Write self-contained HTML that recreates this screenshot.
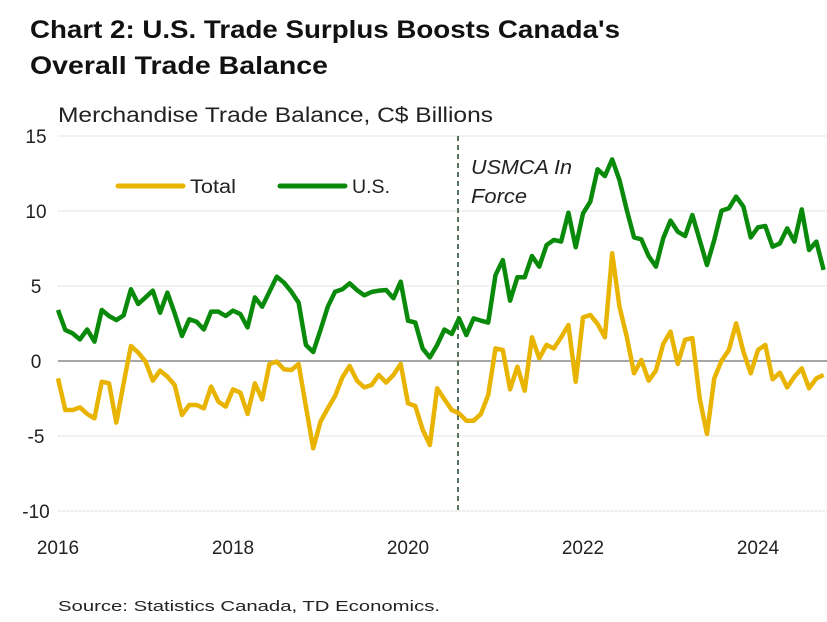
<!DOCTYPE html>
<html><head><meta charset="utf-8"><style>
body{margin:0;background:#fff;width:827px;height:617px;overflow:hidden;font-family:"Liberation Sans",sans-serif}
</style></head><body>
<svg id="c" width="827" height="617" xmlns="http://www.w3.org/2000/svg">
<text x="30" y="38" font-size="25" font-weight="bold" fill="#111" textLength="590" lengthAdjust="spacingAndGlyphs">Chart 2: U.S. Trade Surplus Boosts Canada's</text>
<text x="30" y="74" font-size="25" font-weight="bold" fill="#111" textLength="298" lengthAdjust="spacingAndGlyphs">Overall Trade Balance</text>
<text x="58" y="122" font-size="21" fill="#222" textLength="435" lengthAdjust="spacingAndGlyphs">Merchandise Trade Balance, C$ Billions</text>
<g id="grid"></g>
<g id="yt"></g>
<g id="xt"></g>
<line x1="458" y1="136" x2="458" y2="511" stroke="#1f4a2a" stroke-width="1.5" stroke-dasharray="5,4"/>
<text x="471" y="174" font-size="20" font-style="italic" fill="#222"><tspan x="471" textLength="101" lengthAdjust="spacingAndGlyphs">USMCA In</tspan><tspan x="471" dy="29" textLength="56" lengthAdjust="spacingAndGlyphs">Force</tspan></text>
<g id="series"></g>
<line x1="118" y1="186" x2="183" y2="186" stroke="#e8b400" stroke-width="5" stroke-linecap="round"/>
<text x="190" y="193" font-size="19" fill="#222" textLength="46" lengthAdjust="spacingAndGlyphs">Total</text>
<line x1="280" y1="186" x2="345" y2="186" stroke="#0a8a0a" stroke-width="5" stroke-linecap="round"/>
<text x="352" y="193" font-size="19" fill="#222" textLength="38" lengthAdjust="spacingAndGlyphs">U.S.</text>
<text x="58" y="611" font-size="15" fill="#222" textLength="382" lengthAdjust="spacingAndGlyphs">Source:  Statistics Canada, TD Economics.</text>
</svg>
<script>
const yTicks=[15,10,5,0,-5,-10];
const xTickYears=[2016,2018,2020,2022,2024];
const usVals=[3.4,2.07,1.84,1.44,2.1,1.29,3.4,3.0,2.73,3.04,4.78,3.8,4.24,4.69,3.22,4.56,3.18,1.67,2.78,2.62,2.1,3.29,3.29,3.0,3.36,3.13,2.24,4.24,3.62,4.62,5.62,5.22,4.62,3.89,1.07,0.6,2.07,3.62,4.62,4.78,5.18,4.73,4.38,4.6,4.69,4.73,4.18,5.29,2.69,2.56,0.84,0.24,1.07,2.1,1.8,2.84,1.73,2.84,2.69,2.56,5.73,6.73,4.02,5.58,5.58,7.0,6.29,7.73,8.07,7.96,9.89,7.58,9.84,10.62,12.78,12.33,13.44,12.07,10.07,8.24,8.11,7.0,6.29,8.18,9.36,8.62,8.33,9.73,8.07,6.4,8.07,10.02,10.18,10.96,10.29,8.24,8.91,9.0,7.62,7.84,8.84,7.96,10.11,7.4,7.96,6.07];
const totalVals=[-1.16,-3.27,-3.27,-3.09,-3.53,-3.82,-1.38,-1.49,-4.11,-1.49,1.0,0.56,-0.04,-1.31,-0.64,-1.04,-1.6,-3.6,-2.93,-2.93,-3.16,-1.71,-2.71,-3.04,-1.89,-2.11,-3.53,-1.49,-2.56,-0.2,-0.04,-0.56,-0.6,-0.2,-3.04,-5.82,-4.04,-3.16,-2.33,-1.09,-0.33,-1.31,-1.76,-1.6,-0.93,-1.44,-0.93,-0.2,-2.82,-3.0,-4.56,-5.6,-1.82,-2.56,-3.27,-3.49,-3.98,-3.98,-3.53,-2.27,0.84,0.73,-1.89,-0.38,-1.98,1.58,0.18,1.07,0.84,1.58,2.4,-1.38,2.91,3.07,2.47,1.58,7.18,3.62,1.62,-0.82,0.07,-1.31,-0.64,1.13,1.96,-0.2,1.42,1.53,-2.49,-4.87,-1.16,0.02,0.73,2.51,0.62,-0.82,0.73,1.07,-1.22,-0.78,-1.76,-1.04,-0.49,-1.82,-1.16,-0.93];
const NS="http://www.w3.org/2000/svg";
const yS=v=>361-v*15;
const xS=i=>58+i*7.2917;
function mk(t,a,p){const e=document.createElementNS(NS,t);for(const k in a)e.setAttribute(k,a[k]);p.appendChild(e);return e;}
const grid=document.getElementById('grid'),yt=document.getElementById('yt'),xt=document.getElementById('xt'),ser=document.getElementById('series');
yTicks.forEach(v=>{
 const l=mk('line',{x1:58,x2:827,y1:yS(v),y2:yS(v),stroke:v===0?'#888':'#dcdcdc','stroke-width':v===0?1.5:1,'stroke-dasharray':v===0?'':'3,1'},grid);
 
 
 const t=mk('text',{x:36,y:yS(v)+7,'font-size':19,fill:'#222','text-anchor':'middle'},yt);
 t.textContent=v;
 
 
});
xTickYears.forEach(y=>{
 const t=mk('text',{x:xS((y-2016)*12),y:554,'font-size':19,fill:'#222','text-anchor':'middle'},xt);
 t.textContent=y;
 
 
});
function line(vals,col,name){
 const p=mk('polyline',{points:vals.map((v,i)=>xS(i)+','+yS(v)).join(' '),fill:'none',stroke:col,'stroke-width':4.5,'stroke-linejoin':'round'},ser);
 
 
}
line(totalVals,'#e8b400','total-line');
line(usVals,'#0a8a0a','us-line');
</script>
</body></html>
